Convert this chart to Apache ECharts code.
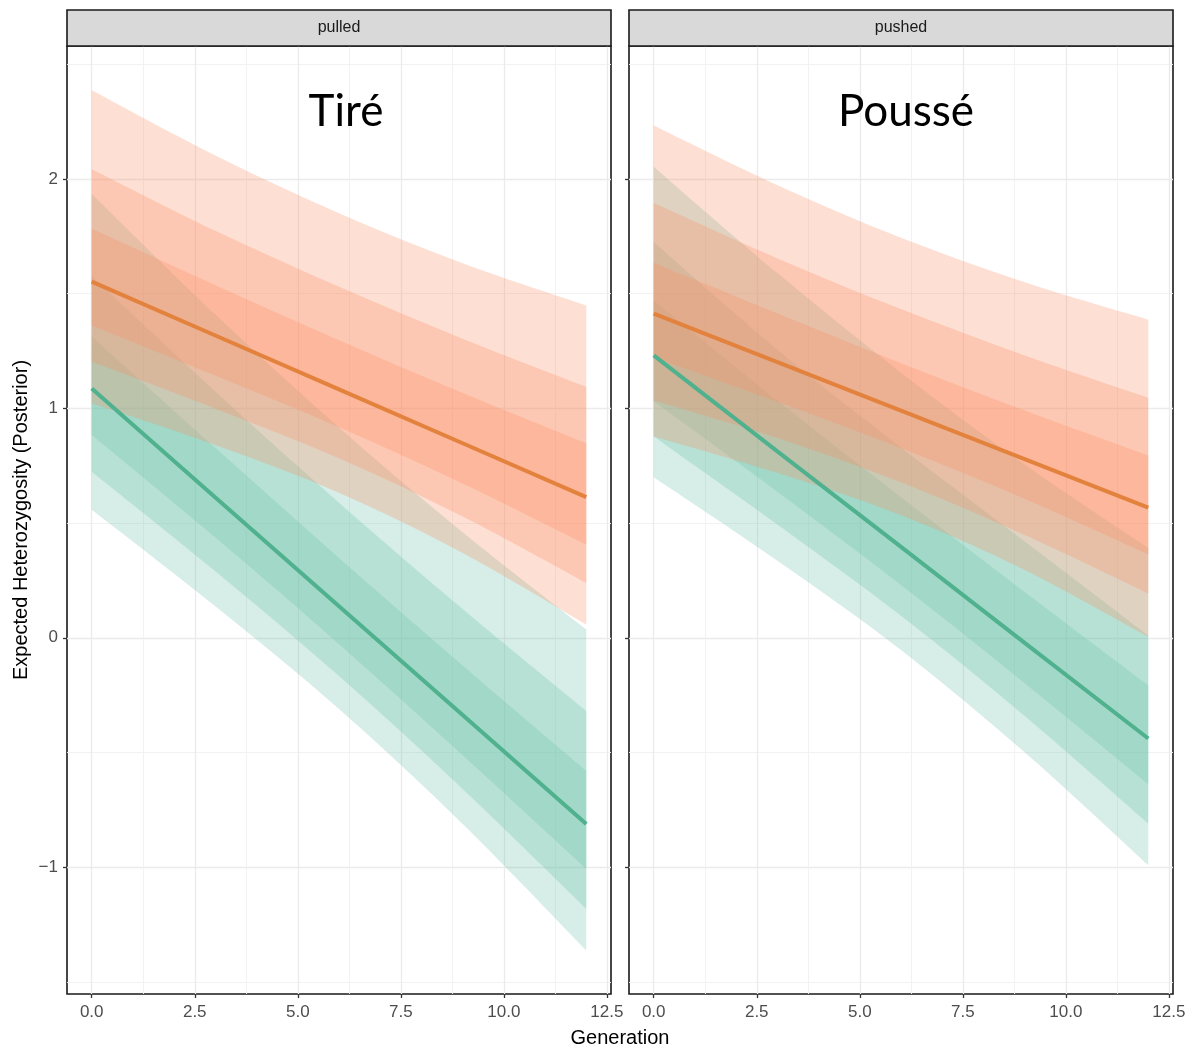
<!DOCTYPE html>
<html>
<head>
<meta charset="utf-8">
<script src="https://cdn.jsdelivr.net/npm/echarts@6/dist/echarts.min.js"></script>
<style>
  html, body { margin: 0; padding: 0; background: #ffffff; }
  #chart { width: 1189px; height: 1049px; }
</style>
</head>
<body>
<div id="chart"></div>
<script>
// Generations at which the posterior summaries are given
const generations = [0, 3, 6, 9, 12];

// Facet labels and the overlaid panel captions
const panelNames = ['pulled', 'pushed'];
const panelCaptions = ['Tiré', 'Poussé'];

// Axis ticks
const xTicks = [0, 2.5, 5, 7.5, 10, 12.5];
const xMinorTicks = [1.25, 3.75, 6.25, 8.75, 11.25];
const yTicks = [-1, 0, 1, 2];
const yMinorTicks = [-1.5, -0.5, 0.5, 1.5, 2.5];

// pulled — orange group: median and interval bounds (inner / middle / outer)
const pulledOrangeMedian = [1.553, 1.318, 1.083, 0.848, 0.613];
const pulledOrangeHi50 = [1.783, 1.537, 1.297, 1.067, 0.848];
const pulledOrangeLo50 = [1.362, 1.143, 0.918, 0.673, 0.406];
const pulledOrangeHi80 = [2.043, 1.774, 1.530, 1.304, 1.094];
const pulledOrangeLo80 = [1.203, 0.999, 0.783, 0.529, 0.239];
const pulledOrangeHi95 = [2.387, 2.103, 1.851, 1.633, 1.449];
const pulledOrangeLo95 = [1.022, 0.840, 0.632, 0.370, 0.058];

// pulled — green group
const pulledGreenMedian = [1.087, 0.612, 0.137, -0.337, -0.812];
const pulledGreenHi50 = [1.314, 0.828, 0.348, -0.121, -0.580];
const pulledGreenLo50 = [0.884, 0.437, -0.028, -0.512, -1.007];
const pulledGreenHi80 = [1.577, 1.074, 0.589, 0.125, -0.319];
const pulledGreenLo80 = [0.724, 0.290, -0.167, -0.659, -1.181];
const pulledGreenHi95 = [1.935, 1.409, 0.917, 0.460, 0.036];
const pulledGreenLo95 = [0.558, 0.137, -0.311, -0.812, -1.363];

// pushed — orange group
const pushedOrangeMedian = [1.413, 1.202, 0.990, 0.779, 0.567];
const pushedOrangeHi50 = [1.635, 1.414, 1.197, 0.991, 0.795];
const pushedOrangeLo50 = [1.223, 1.029, 0.827, 0.606, 0.364];
const pushedOrangeHi80 = [1.895, 1.654, 1.433, 1.231, 1.047];
const pushedOrangeLo80 = [1.035, 0.871, 0.678, 0.448, 0.193];
const pushedOrangeHi95 = [2.233, 1.973, 1.744, 1.550, 1.387];
const pushedOrangeLo95 = [0.878, 0.719, 0.534, 0.296, 0.004];

// pushed — green group
const pushedGreenMedian = [1.231, 0.813, 0.396, -0.022, -0.439];
const pushedGreenHi50 = [1.471, 1.035, 0.613, 0.200, -0.207];
const pushedGreenLo50 = [1.031, 0.637, 0.230, -0.198, -0.638];
const pushedGreenHi80 = [1.725, 1.256, 0.830, 0.421, 0.010];
const pushedGreenLo80 = [0.878, 0.494, 0.096, -0.341, -0.810];
const pushedGreenHi95 = [2.054, 1.590, 1.156, 0.755, 0.391];
const pushedGreenLo95 = [0.700, 0.336, -0.053, -0.499, -0.991];

const ORANGE_FILL = 'rgba(252,141,98,0.28)';
const GREEN_FILL = 'rgba(102,194,165,0.27)';
const ORANGE_LINE = '#e3823d';
const GREEN_LINE = '#4fb18d';

const X_MIN = -0.6, X_MAX = 12.6;
const Y_MIN = -1.553, Y_MAX = 2.58;

const FONT = '"Liberation Sans", Arial, sans-serif';

const chart = echarts.init(document.getElementById('chart'), null, { renderer: 'canvas' });

// SVG path segments running a smooth (Catmull-Rom) curve through pixel points
function smoothSegments(pts) {
  let d = '';
  for (let i = 0; i < pts.length - 1; i++) {
    const p0 = pts[Math.max(i - 1, 0)];
    const p1 = pts[i];
    const p2 = pts[i + 1];
    const p3 = pts[Math.min(i + 2, pts.length - 1)];
    const c1x = p1[0] + (p2[0] - p0[0]) / 6;
    const c1y = p1[1] + (p2[1] - p0[1]) / 6;
    const c2x = p2[0] - (p3[0] - p1[0]) / 6;
    const c2y = p2[1] - (p3[1] - p1[1]) / 6;
    d += ' C' + c1x + ' ' + c1y + ' ' + c2x + ' ' + c2y + ' ' + p2[0] + ' ' + p2[1];
  }
  return d;
}

// A translucent ribbon between two bound arrays
function ribbon(axisIndex, lo, hi, fill) {
  return {
    type: 'custom',
    xAxisIndex: axisIndex,
    yAxisIndex: axisIndex,
    silent: true,
    data: [[generations[0], lo[0]]],
    renderItem: function (params, api) {
      const upper = generations.map((g, i) => api.coord([g, hi[i]]));
      const lower = generations.map((g, i) => api.coord([g, lo[i]])).reverse();
      const d = 'M' + upper[0][0] + ' ' + upper[0][1] + smoothSegments(upper) +
        ' L' + lower[0][0] + ' ' + lower[0][1] + smoothSegments(lower) + ' Z';
      return {
        type: 'path',
        shape: { pathData: d },
        style: { fill: fill }
      };
    },
    z: 2
  };
}

function medianLine(axisIndex, values, color) {
  return {
    type: 'line',
    xAxisIndex: axisIndex,
    yAxisIndex: axisIndex,
    data: generations.map((g, i) => [g, values[i]]),
    showSymbol: false,
    symbol: 'none',
    silent: true,
    lineStyle: { color: color, width: 4 },
    z: 5
  };
}

const groups = [
  {
    orange: [pulledOrangeLo95, pulledOrangeHi95, pulledOrangeLo80, pulledOrangeHi80, pulledOrangeLo50, pulledOrangeHi50],
    green: [pulledGreenLo95, pulledGreenHi95, pulledGreenLo80, pulledGreenHi80, pulledGreenLo50, pulledGreenHi50],
    orangeMedian: pulledOrangeMedian,
    greenMedian: pulledGreenMedian
  },
  {
    orange: [pushedOrangeLo95, pushedOrangeHi95, pushedOrangeLo80, pushedOrangeHi80, pushedOrangeLo50, pushedOrangeHi50],
    green: [pushedGreenLo95, pushedGreenHi95, pushedGreenLo80, pushedGreenHi80, pushedGreenLo50, pushedGreenHi50],
    orangeMedian: pushedOrangeMedian,
    greenMedian: pushedGreenMedian
  }
];

const series = [];
groups.forEach((grp, p) => {
  for (let k = 0; k < 3; k++) {
    series.push(ribbon(p, grp.green[2 * k], grp.green[2 * k + 1], GREEN_FILL));
  }
  for (let k = 0; k < 3; k++) {
    series.push(ribbon(p, grp.orange[2 * k], grp.orange[2 * k + 1], ORANGE_FILL));
  }
});
groups.forEach((grp, p) => {
  series.push(medianLine(p, grp.orangeMedian, ORANGE_LINE));
  series.push(medianLine(p, grp.greenMedian, GREEN_LINE));
});

const panelLeft = [67, 629];
const panelWidth = 544;
const panelTop = 46;
const panelHeight = 948;

const grids = panelLeft.map(l => ({
  left: l, top: panelTop, width: panelWidth, height: panelHeight,
  show: true, borderColor: '#1a1a1a', borderWidth: 1.6, backgroundColor: '#ffffff',
  containLabel: false
}));

const xAxes = [];
const yAxes = [];
// main axes (labels, ticks, major grid lines)
[0, 1].forEach(p => {
  xAxes.push({
    type: 'value', gridIndex: p, min: X_MIN, max: X_MAX, position: 'bottom',
    axisLine: { show: false, onZero: false },
    axisTick: { show: true, length: 4, lineStyle: { color: '#333333', width: 1.3 }, customValues: xTicks },
    axisLabel: {
      customValues: xTicks, color: '#4d4d4d', fontSize: 17, fontFamily: FONT, margin: 10,
      formatter: v => Number(v).toFixed(1)
    },
    splitLine: { show: true, lineStyle: { color: '#ebebeb', width: 1.3 } }
  });
  yAxes.push({
    type: 'value', gridIndex: p, min: Y_MIN, max: Y_MAX, position: 'left',
    axisLine: { show: false, onZero: false },
    axisTick: { show: true, length: 4, lineStyle: { color: '#333333', width: 1.3 }, customValues: yTicks },
    axisLabel: {
      show: p === 0, customValues: yTicks, color: '#4d4d4d', fontSize: 17, fontFamily: FONT, margin: 9,
      formatter: v => (v < 0 ? '\u2212' + Math.abs(v) : String(v))
    },
    splitLine: { show: true, lineStyle: { color: '#ebebeb', width: 1.3 } },
    name: p === 0 ? 'Expected Heterozygosity (Posterior)' : '',
    nameLocation: 'middle',
    nameGap: 36,
    nameTextStyle: { color: '#000000', fontSize: 20, fontFamily: FONT }
  });
});
// companion axes carrying only the minor grid lines
[0, 1].forEach(p => {
  xAxes.push({
    type: 'value', gridIndex: p, min: X_MIN, max: X_MAX, position: 'top',
    axisLine: { show: false, onZero: false },
    axisTick: { show: false, customValues: xMinorTicks },
    axisLabel: { show: false, customValues: xMinorTicks },
    splitLine: { show: true, lineStyle: { color: '#f0f0f0', width: 0.9 } }
  });
  yAxes.push({
    type: 'value', gridIndex: p, min: Y_MIN, max: Y_MAX, position: 'right',
    axisLine: { show: false, onZero: false },
    axisTick: { show: false, customValues: yMinorTicks },
    axisLabel: { show: false, customValues: yMinorTicks },
    splitLine: { show: true, lineStyle: { color: '#f0f0f0', width: 0.9 } }
  });
});

const graphics = [];
panelLeft.forEach((l, p) => {
  graphics.push({
    type: 'rect', silent: true, z: 10,
    shape: { x: l, y: 10, width: panelWidth, height: panelTop - 10 },
    style: { fill: '#d9d9d9', stroke: '#1a1a1a', lineWidth: 1.6 }
  });
  graphics.push({
    type: 'text', silent: true, z: 11,
    x: l + panelWidth / 2, y: 28,
    style: { text: panelNames[p], fill: '#1a1a1a', font: '16px ' + FONT, align: 'center', verticalAlign: 'middle' }
  });
  graphics.push({
    type: 'text', silent: true, z: 11,
    x: l + (p === 0 ? 279 : 277), y: 112,
    style: { text: panelCaptions[p], fill: '#000000', font: '44px Lato, "Open Sans", sans-serif', align: 'center', verticalAlign: 'middle' }
  });
});
graphics.push({
  type: 'text', silent: true, z: 11,
  x: 620, y: 1038,
  style: { text: 'Generation', fill: '#000000', font: '20px ' + FONT, align: 'center', verticalAlign: 'middle' }
});

chart.setOption({
  animation: false,
  backgroundColor: '#ffffff',
  grid: grids,
  xAxis: xAxes,
  yAxis: yAxes,
  series: series,
  graphic: graphics
});
</script>
</body>
</html>
